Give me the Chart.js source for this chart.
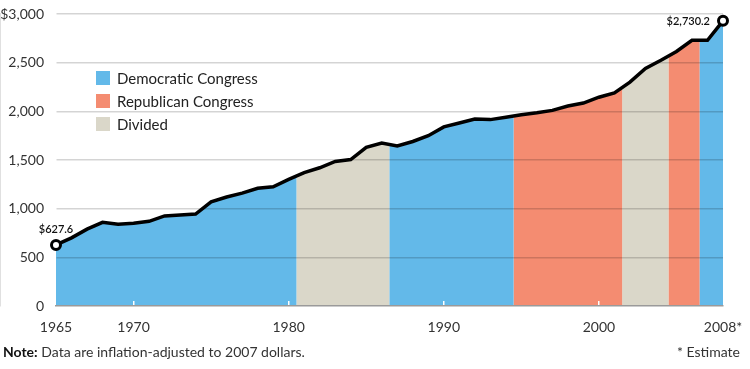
<!DOCTYPE html>
<html>
<head>
<meta charset="utf-8">
<script src="https://cdn.jsdelivr.net/npm/chart.js@4.4.1/dist/chart.umd.min.js"></script>
<style>
  body { margin: 0; background: #fff; font-family: Lato, "Open Sans", sans-serif; }
  #wrap { position: relative; width: 750px; height: 369px; }
  #chart { position: absolute; left: 0; top: 0; }
  .legend { position: absolute; left: 96px; top: 66px; font-size: 15px; color: #222; }
  .legend div { height: 23px; display: flex; align-items: center; }
  .legend span.sw { width: 14px; height: 14px; margin-right: 7px; }
  .note { position: absolute; left: 3px; top: 343px; font-size: 14px; color: #333; }
  .note b { color: #111; }
  .est { position: absolute; right: 10px; top: 343px; font-size: 14px; color: #333; }
</style>
</head>
<body>
<div id="wrap">
  <canvas id="chart" width="750" height="369"></canvas>
  <div class="legend" id="legend"></div>
  <div class="note"><b>Note:</b> Data are inflation-adjusted to 2007 dollars.</div>
  <div class="est">* Estimate</div>
</div>
<script>
    // yearly values (billions, 2007 dollars)
    const years = [1965, 1966, 1967, 1968, 1969, 1970, 1971, 1972, 1973, 1974,
        1975, 1976, 1977, 1978, 1979, 1980, 1981, 1982, 1983, 1984,
        1985, 1986, 1987, 1988, 1989, 1990, 1991, 1992, 1993, 1994,
        1995, 1996, 1997, 1998, 1999, 2000, 2001, 2002, 2003, 2004,
        2005, 2006, 2007, 2008];
    const spending = [627.6, 700, 790, 860, 840, 850, 870, 925, 935, 945,
        1070, 1120, 1160, 1210, 1225, 1300, 1370, 1420, 1485, 1505,
        1630, 1675, 1645, 1690, 1750, 1840, 1880, 1920, 1915, 1940,
        1965, 1985, 2010, 2055, 2085, 2145, 2190, 2300, 2440, 2525,
        2615, 2730, 2730.2, 2930];

    // who controlled Congress, from each start year to the next
    const periodStarts = [1965, 1980.5, 1986.5, 1994.5, 2001.5, 2004.5, 2006.5];
    const periodControl = ['Democratic', 'Divided', 'Democratic', 'Republican', 'Divided', 'Republican', 'Democratic'];

    const parties = ['Democratic', 'Republican', 'Divided'];
    const partyNames = ['Democratic Congress', 'Republican Congress', 'Divided'];
    const partyColors = ['#63b9e9', '#f48c71', '#dad7c9'];

    const xTickValues = [1965, 1970, 1980, 1990, 2000, 2008];
    const xTickLabels = ['1965', '1970', '1980', '1990', '2000', '2008*'];
    const yTickLabels = ['0', '500', '1,000', '1,500', '2,000', '2,500', '$3,000'];
    const endLabels = ['$627.6', '$2,730.2'];

    // legend (html, sits inside the plot)
    const legendBox = document.getElementById('legend');
    partyNames.forEach((name, i) => {
        const row = document.createElement('div');
        row.innerHTML = `<span class="sw" style="background:${partyColors[i]}"></span>${name}`;
        legendBox.appendChild(row);
    });

    // clip each coloured area to the years its party held Congress
    const partyClip = {
        id: 'partyClip',
        beforeDatasetDraw(chart, args) {
            const party = chart.data.datasets[args.index].party;
            if (!party) return;
            const x = chart.scales.x;
            const area = chart.chartArea;
            const ctx = chart.ctx;
            ctx.save();
            ctx.beginPath();
            periodStarts.forEach((start, i) => {
                if (periodControl[i] !== party) return;
                const end = i + 1 < periodStarts.length ? periodStarts[i + 1] : years[years.length - 1];
                const left = x.getPixelForValue(start);
                const right = x.getPixelForValue(end);
                ctx.rect(left, area.top - 1, right - left, area.bottom - area.top + 2);
            });
            ctx.clip();
        },
        afterDatasetDraw(chart, args) {
            if (chart.data.datasets[args.index].party) chart.ctx.restore();
        }
    };

    // labels next to first and last point
    const pointLabels = {
        id: 'pointLabels',
        afterDatasetsDraw(chart) {
            const meta = chart.getDatasetMeta(0);
            const first = meta.data[0];
            const last = meta.data[meta.data.length - 1];
            const ctx = chart.ctx;
            ctx.save();
            ctx.font = '600 11px Lato';
            ctx.fillStyle = '#111';
            ctx.textAlign = 'center';
            ctx.textBaseline = 'bottom';
            ctx.fillText(endLabels[0], first.x, first.y - 10);
            ctx.textAlign = 'right';
            ctx.textBaseline = 'middle';
            ctx.fillText(endLabels[1], last.x - 13, last.y + 1);
            ctx.restore();
        }
    };

    // filler has to run after the clip plugin
    Chart.unregister(Chart.Filler);
    Chart.register(partyClip, Chart.Filler);

    const points = years.map((y, i) => ({ x: y, y: spending[i] }));

    const datasets = [{
        label: 'Spending',
        data: points,
        borderColor: '#000',
        borderWidth: 3.5,
        fill: false,
        tension: 0,
        clip: false,
        order: 0,
        pointRadius: ctx => (ctx.dataIndex === 0 || ctx.dataIndex === years.length - 1) ? 4.5 : 0,
        pointBackgroundColor: '#fff',
        pointBorderColor: '#000',
        pointBorderWidth: 3
    }];
    parties.forEach((party, i) => {
        datasets.push({
            label: partyNames[i],
            party: party,
            data: points,
            backgroundColor: partyColors[i],
            borderWidth: 0,
            pointRadius: 0,
            fill: 'origin',
            tension: 0,
            order: 1
        });
    });

    new Chart(document.getElementById('chart'), {
        type: 'line',
        data: { datasets: datasets },
        plugins: [pointLabels],
        options: {
            responsive: false,
            animation: false,
            events: [],
            layout: { padding: { top: 14, right: 27, bottom: 0, left: 0 } },
            plugins: {
                legend: { display: false },
                tooltip: { enabled: false },
                filler: { propagate: false, drawTime: 'beforeDatasetDraw' }
            },
            scales: {
                x: {
                    type: 'linear',
                    min: years[0],
                    max: years[years.length - 1],
                    afterBuildTicks: scale => { scale.ticks = xTickValues.map(v => ({ value: v })); },
                    afterFit: scale => {
                        scale.height = 63;
                        scale.paddingLeft = 0;
                        scale.paddingRight = 0;
                    },
                    grid: {
                        drawOnChartArea: false,
                        drawTicks: true,
                        tickLength: -5,
                        lineWidth: 1.5,
                        z: 1,
                        color: ctx => (ctx.index === 0 || ctx.index === xTickValues.length - 1) ? 'rgba(0,0,0,0)' : '#fff'
                    },
                    border: { display: true, color: '#9a9a9a', width: 1.5, z: 1 },
                    ticks: {
                        padding: 18,
                        maxRotation: 0,
                        autoSkip: false,
                        color: '#333',
                        font: { family: 'Lato', size: 14 },
                        callback: (value, index) => xTickLabels[index]
                    }
                },
                y: {
                    min: 0,
                    max: 3000,
                    afterFit: scale => {
                        scale.width = 56;
                        scale.paddingTop = 0;
                        scale.paddingBottom = 0;
                    },
                    grid: {
                        color: ctx => ctx.index === 0 ? 'rgba(0,0,0,0)' : 'rgba(0,0,0,0.17)',
                        lineWidth: 1.5,
                        drawTicks: false,
                        z: 1
                    },
                    border: { display: true, color: '#d6d6d6', width: 1.5 },
                    ticks: {
                        stepSize: 500,
                        padding: 12,
                        color: '#333',
                        font: { family: 'Lato', size: 14 },
                        callback: (value, index) => yTickLabels[index]
                    }
                }
            }
        }
    });
</script>
</body>
</html>
